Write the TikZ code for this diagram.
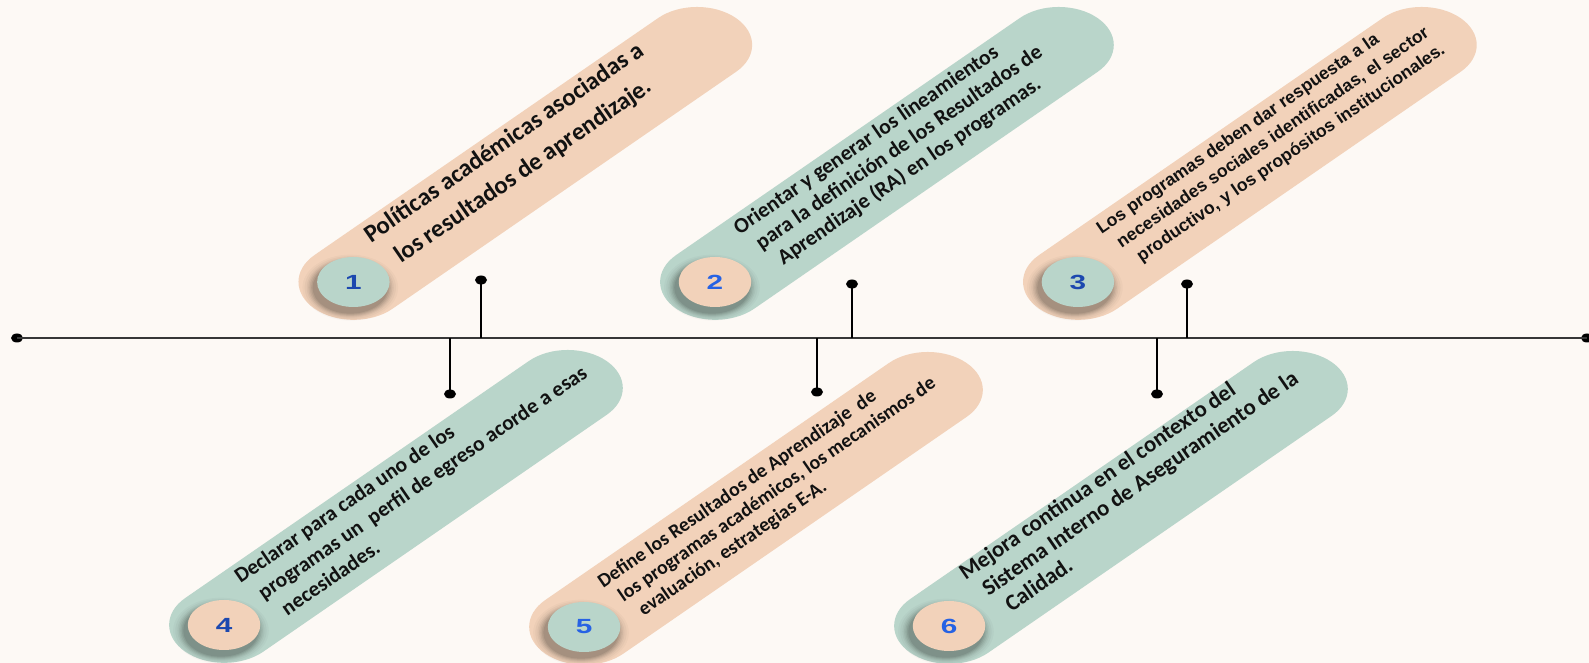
\documentclass[tikz,border=0pt]{standalone}
\usepackage{fontspec}
\setmainfont{Carlito}
\newfontfamily\arialf{Liberation Sans}
\usetikzlibrary{shapes.misc,shapes.geometric}
\definecolor{peach}{RGB}{242,210,186}
\definecolor{sage}{RGB}{185,213,202}
\definecolor{bgc}{RGB}{253,249,245}
\definecolor{numdark}{RGB}{28,72,175}
\definecolor{numlight}{RGB}{38,98,228}
\definecolor{ink}{RGB}{18,18,18}
\definecolor{linec}{RGB}{55,55,55}
\tikzset{
  capsule/.style={rounded rectangle, minimum width=411pt, minimum height=76pt, inner sep=0pt, transform shape, anchor=west},
  badge/.style={circle, minimum size=50pt, inner sep=0pt, transform shape},
  numtxt/.style={transform shape, rotate=-45, inner sep=0pt, font=\arialf\bfseries\fontsize{20.5}{20.5}\selectfont},
  txt/.style={rotate=34.59, inner sep=0pt, text=ink, anchor=base west},
  dotn/.style={ellipse, fill=black, minimum width=12pt, minimum height=9pt, inner sep=0pt},
  tline/.style={draw=linec, line width=1.5pt},
  stem/.style={draw=black, line width=1.5pt},
}
\newcommand{\shadowblob}{%
  \foreach \r/\o in {33/0.025,31.5/0.03,30/0.04,29/0.05,28/0.06,27/0.07,26/0.08}{%
    \fill[black, opacity=\o] (-5.5,-2.5) circle (\r pt);}%
}
\begin{document}
\begin{tikzpicture}[x=1pt,y=1pt]
\useasboundingbox (0,0) rectangle (1589,663);
\fill[bgc] (0,0) rectangle (1589,663);

% timeline
\node[dotn] (L) at (17,325) {};
\node[dotn] (R) at (1587,325) {};
\draw[tline] (L.center) -- (R.center);

\node[dotn] (d1) at (481,383) {};
\node[dotn] (d2) at (852,379) {};
\node[dotn] (d3) at (1187,379) {};
\node[dotn] (d4) at (450,269) {};
\node[dotn] (d5) at (817,271) {};
\node[dotn] (d6) at (1157,269) {};
\foreach \d in {d1,d2,d3,d4,d5,d6}{
  \draw[stem] (\d.center) -- (\d.center |- L.center);
}

\begin{scope}[xscale=1.45]
% ---- capsule 1
\begin{scope}[shift={(243.7,381)}, rotate=45]
  \node[capsule, fill=peach] (c1) at (-38,0) {};
  \shadowblob
  \node[badge, fill=sage] (b1) at (0,0) {};
  \node[numtxt, text=numdark] (n1) at (b1.center) {1};
  \coordinate (p1a) at (36,18.6);
  \coordinate (p1b) at (36,-10.5);
\end{scope}
% ---- capsule 2
\begin{scope}[shift={(493.1,381)}, rotate=45]
  \node[capsule, fill=sage] (c2) at (-38,0) {};
  \shadowblob
  \node[badge, fill=peach] (b2) at (0,0) {};
  \node[numtxt, text=numlight] (n2) at (b2.center) {2};
  \coordinate (p2a) at (45,21.1);
  \coordinate (p2b) at (45,-0.3);
  \coordinate (p2c) at (45,-21.7);
\end{scope}
% ---- capsule 3
\begin{scope}[shift={(743.4,381)}, rotate=45]
  \node[capsule, fill=peach] (c3) at (-38,0) {};
  \shadowblob
  \node[badge, fill=sage] (b3) at (0,0) {};
  \node[numtxt, text=numdark] (n3) at (b3.center) {3};
  \coordinate (p3a) at (45,22.1);
  \coordinate (p3b) at (45,2.5);
  \coordinate (p3c) at (45,-17);
\end{scope}
% ---- capsule 4
\begin{scope}[shift={(154.5,38)}, rotate=45]
  \node[capsule, fill=sage] (c4) at (-38,0) {};
  \shadowblob
  \node[badge, fill=peach] (b4) at (0,0) {};
  \node[numtxt, text=numdark] (n4) at (b4.center) {4};
  \coordinate (p4a) at (37,20.9);
  \coordinate (p4b) at (37,-1.9);
  \coordinate (p4c) at (37,-24.7);
\end{scope}
% ---- capsule 5
\begin{scope}[shift={(402.8,36)}, rotate=45]
  \node[capsule, fill=peach] (c5) at (-38,0) {};
  \shadowblob
  \node[badge, fill=sage] (b5) at (0,0) {};
  \node[numtxt, text=numlight] (n5) at (b5.center) {5};
  \coordinate (p5a) at (36.5,17.9);
  \coordinate (p5b) at (36.5,-1.85);
  \coordinate (p5c) at (36.5,-21.6);
\end{scope}
% ---- capsule 6
\begin{scope}[shift={(654.5,37)}, rotate=45]
  \node[capsule, fill=sage] (c6) at (-38,0) {};
  \shadowblob
  \node[badge, fill=peach] (b6) at (0,0) {};
  \node[numtxt, text=numlight] (n6) at (b6.center) {6};
  \coordinate (p6a) at (40,23.9);
  \coordinate (p6b) at (40,1.5);
  \coordinate (p6c) at (40,-20.8);
\end{scope}
\end{scope}

% ---- texts (rotated, not sheared)
\begin{scope}[every node/.append style={font=\bfseries\fontsize{24.8}{29}\selectfont}]
  \node[txt] (t1a) at (p1a) {Políticas académicas asociadas a};
  \node[txt] (t1b) at (p1b) {los resultados de aprendizaje.};
\end{scope}
\begin{scope}[every node/.append style={font=\bfseries\fontsize{21.6}{26}\selectfont}]
  \node[txt] (t2a) at (p2a) {Orientar y generar los lineamientos};
  \node[txt] (t2b) at (p2b) {para la definición de los Resultados de};
  \node[txt] (t2c) at (p2c) {Aprendizaje (RA) en los programas.};
\end{scope}
\begin{scope}[every node/.append style={font=\arialf\bfseries\fontsize{17.6}{21}\selectfont}]
  \node[txt] (t3a) at (p3a) {Los programas deben dar respuesta a la};
  \node[txt] (t3b) at (p3b) {necesidades sociales identificadas, el sector};
  \node[txt] (t3c) at (p3c) {productivo, y los propósitos institucionales.};
\end{scope}
\begin{scope}[every node/.append style={font=\bfseries\fontsize{21.4}{26}\selectfont}]
  \node[txt] (t4a) at (p4a) {Declarar para cada uno de los};
  \node[txt] (t4b) at (p4b) {programas un\ \ perfil de egreso acorde a esas};
  \node[txt] (t4c) at (p4c) {necesidades.};
\end{scope}
\begin{scope}[every node/.append style={font=\bfseries\fontsize{19.8}{23}\selectfont}]
  \node[txt] (t5a) at (p5a) {Define los Resultados de Aprendizaje\ \ de};
  \node[txt] (t5b) at (p5b) {los programas académicos, los mecanismos de};
  \node[txt] (t5c) at (p5c) {evaluación, estrategias E-A.};
\end{scope}
\begin{scope}[every node/.append style={font=\bfseries\fontsize{22.8}{26}\selectfont}]
  \node[txt] (t6a) at (p6a) {Mejora continua en el contexto del};
  \node[txt] (t6b) at (p6b) {Sistema Interno de Aseguramiento de la};
  \node[txt] (t6c) at (p6c) {Calidad.};
\end{scope}
\end{tikzpicture}
\end{document}
